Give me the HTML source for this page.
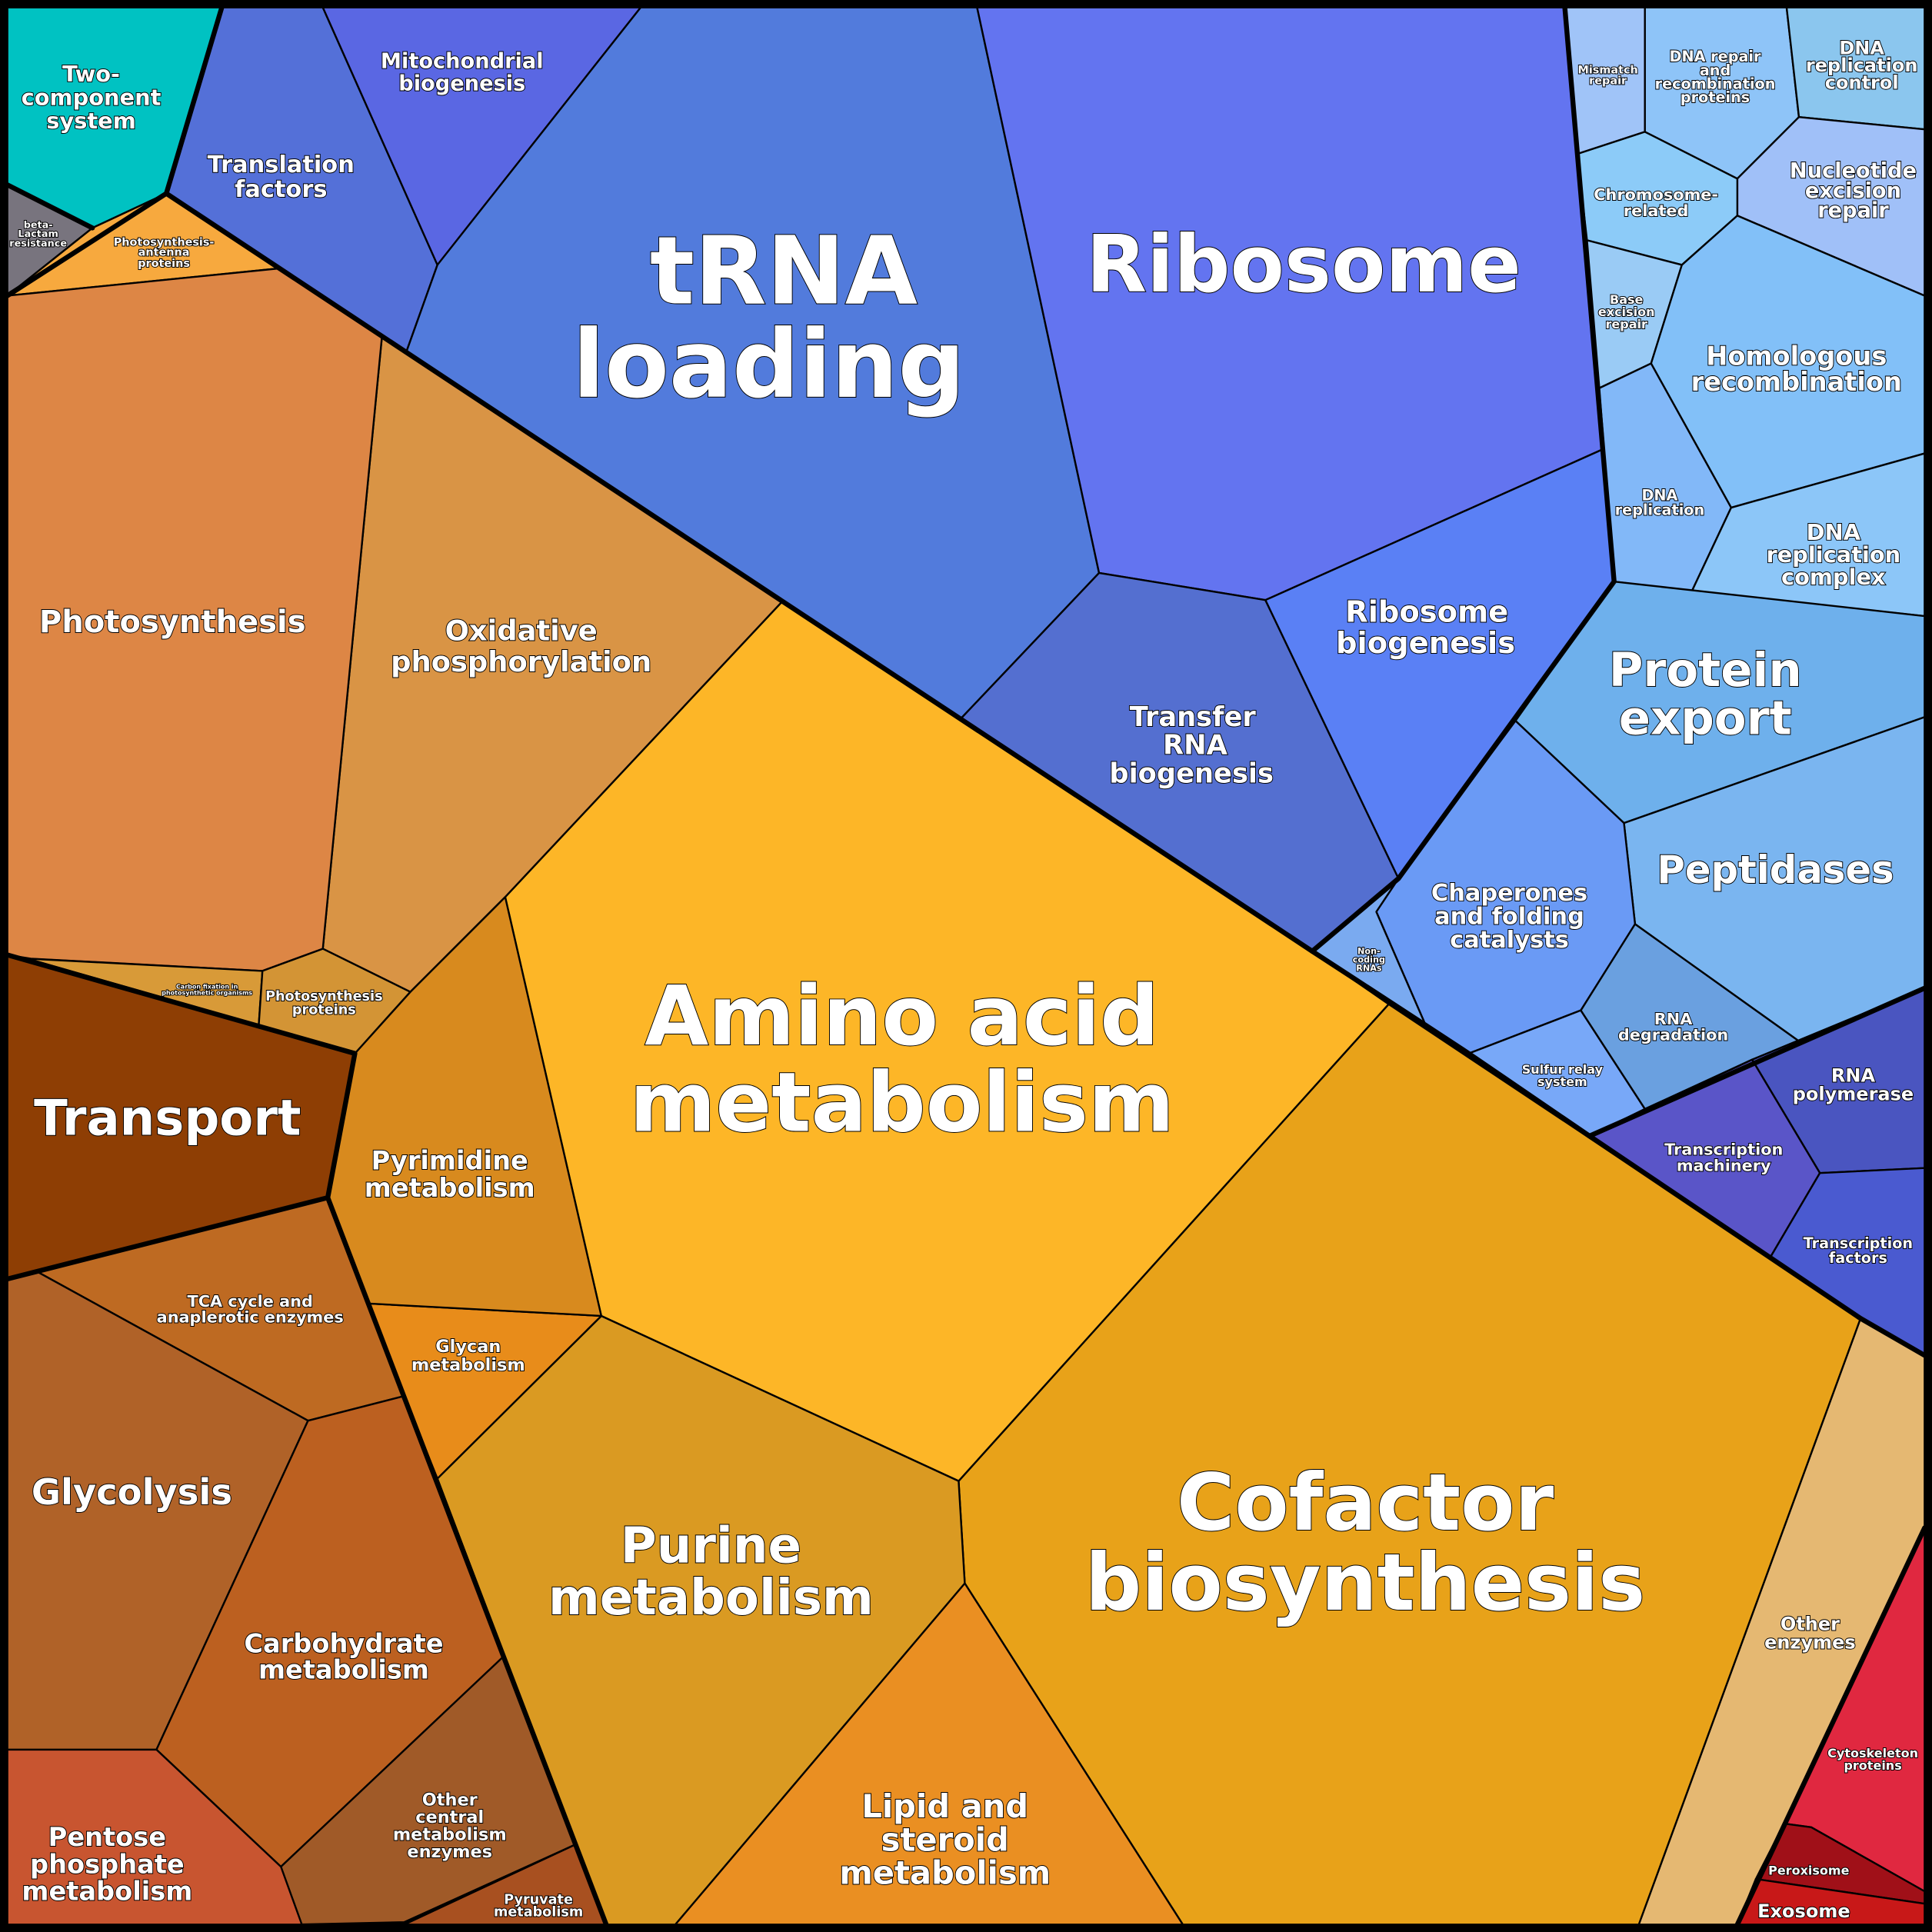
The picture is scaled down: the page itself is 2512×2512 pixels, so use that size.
<!DOCTYPE html>
<html><head><meta charset="utf-8"><style>
html,body{margin:0;padding:0;background:#000}
svg{display:block}
text{font-family:"DejaVu Sans","Liberation Sans",sans-serif;font-weight:bold;fill:#fff;stroke:#000;stroke-width:1.2;paint-order:stroke;text-anchor:middle;dominant-baseline:central}
polygon{stroke:#000;stroke-width:1.5;stroke-linejoin:round}
.t{fill:none;stroke:#000;stroke-width:4;stroke-linejoin:round;stroke-linecap:round}
</style></head><body>
<svg width="2512" height="2512" viewBox="0 0 1568 1568" xmlns="http://www.w3.org/2000/svg">
<rect width="1568" height="1568" fill="#000"/>
<polygon fill="#00C2C2" points="6,6 180,6 135,157 75,185 6,150"/>
<polygon fill="#78747E" points="6,150 75,185 6,240"/>
<polygon fill="#F7A93E" points="6,240 75,185 135,157 225,218"/>
<polygon fill="#5470D8" points="180,6 262,6 355,215 330,285 135,157"/>
<polygon fill="#5A67E3" points="262,6 520,6 355,215"/>
<polygon fill="#527BDC" points="520,6 793,6 892,465 780,583 330,285 355,215"/>
<polygon fill="#6374F0" points="793,6 1270,6 1300,365 1027,487 892,465"/>
<polygon fill="#546FD0" points="892,465 1027,487 1135,713 1065,772 780,583"/>
<polygon fill="#5A80F5" points="1027,487 1300,365 1310,472 1230,585 1135,713"/>
<polygon fill="#A0C4F8" points="1270,6 1335,6 1335,107 1280,125"/>
<polygon fill="#8EC4F8" points="1335,6 1450,6 1460,95 1410,145 1335,107"/>
<polygon fill="#8BC6EE" points="1450,6 1562,6 1562,105 1460,95"/>
<polygon fill="#A0C0F8" points="1460,95 1562,105 1562,240 1410,175 1410,145"/>
<polygon fill="#8CCBF8" points="1280,125 1335,107 1410,145 1410,175 1365,215 1288,195"/>
<polygon fill="#9ACBF5" points="1288,195 1365,215 1340,295 1298,315"/>
<polygon fill="#82C0F8" points="1365,215 1410,175 1562,240 1562,368 1405,412 1340,295"/>
<polygon fill="#82B8F8" points="1298,315 1340,295 1405,412 1373,480 1310,472"/>
<polygon fill="#8CC6F8" points="1405,412 1562,368 1562,500 1373,480"/>
<polygon fill="#6EB0EC" points="1310,472 1562,500 1562,582 1318,668 1230,585"/>
<polygon fill="#7AB5F0" points="1318,668 1562,582 1562,802 1460,845 1327,750"/>
<polygon fill="#6A9AF5" points="1230,585 1318,668 1327,750 1283,820 1192,855 1157,832 1117,740 1135,713"/>
<polygon fill="#7AAAF0" points="1065,772 1135,713 1117,740 1157,832"/>
<polygon fill="#78A8F8" points="1192,855 1283,820 1335,900 1290,922"/>
<polygon fill="#6AA0E0" points="1283,820 1327,750 1460,845 1422,860 1335,900"/>
<polygon fill="#4A55C0" points="1422,860 1562,802 1562,948 1477,952"/>
<polygon fill="#5A55C8" points="1290,922 1422,860 1477,952 1437,1020"/>
<polygon fill="#4A5AD0" points="1477,952 1562,948 1562,1100 1510,1070 1437,1020"/>
<polygon fill="#E5B872" points="1510,1070 1562,1100 1562,1240 1410,1562 1330,1562"/>
<polygon fill="#E02840" points="1562,1240 1562,1535 1470,1483 1448,1480"/>
<polygon fill="#A01018" points="1448,1480 1470,1483 1562,1535 1562,1545 1425,1525"/>
<polygon fill="#C81818" points="1425,1525 1562,1545 1562,1562 1410,1562"/>
<polygon fill="#E8A219" points="1127,815 1510,1070 1330,1562 960,1562 783,1285 778,1202"/>
<polygon fill="#FDB627" points="635,488 1065,772 1127,815 778,1202 488,1068 410,728"/>
<polygon fill="#EA8F22" points="783,1285 960,1562 548,1562"/>
<polygon fill="#DA9A22" points="488,1068 778,1202 783,1285 548,1562 492,1562 355,1200"/>
<polygon fill="#E88C1A" points="300,1058 488,1068 355,1200 328,1133"/>
<polygon fill="#D88A1E" points="288,855 333,805 410,728 488,1068 300,1058 266,972"/>
<polygon fill="#D99445" points="310,273 635,488 410,728 333,805 262,770"/>
<polygon fill="#DD8645" points="6,240 225,218 310,273 262,770 213,788 25,778 6,775"/>
<polygon fill="#D89A38" points="22,778 213,788 210,832"/>
<polygon fill="#D39435" points="213,788 262,770 333,805 288,855 210,832"/>
<polygon fill="#8E3E04" points="6,775 22,778 210,832 288,855 266,972 6,1038"/>
<polygon fill="#BE6A22" points="30,1032 266,972 328,1133 250,1153"/>
<polygon fill="#B06228" points="6,1038 30,1032 250,1153 127,1420 6,1420"/>
<polygon fill="#BC6020" points="250,1153 328,1133 408,1345 228,1515 127,1420"/>
<polygon fill="#A05A28" points="408,1345 467,1497 328,1560 240,1562 228,1515"/>
<polygon fill="#A85020" points="467,1497 492,1562 328,1562"/>
<polygon fill="#C85530" points="6,1420 127,1420 228,1515 245,1562 6,1562"/>

<polyline class="t" points="180,6 135,157 6,240"/>
<polyline class="t" points="75,185 6,150"/>
<polyline class="t" points="135,157 635,488 1065,772 1135,713 1310,472 1270,6"/>
<polyline class="t" points="1065,772 1157,832 1192,855 1290,922 1510,1070 1562,1100"/>
<polyline class="t" points="1290,922 1562,802"/>
<polyline class="t" points="1562,1240 1410,1562"/>
<polyline class="t" points="6,775 288,855 266,972 6,1038"/>
<polyline class="t" points="266,972 492,1562"/>
<rect x="3" y="3" width="1562" height="1562" fill="none" stroke="#000" stroke-width="7"/>

<g>
<text x="74" y="60" font-size="18">Two-</text><text x="74" y="79" font-size="18">component</text><text x="74" y="98" font-size="18">system</text>
<text x="31" y="183" font-size="8">beta-</text><text x="31" y="190" font-size="8">Lactam</text><text x="31" y="198" font-size="8">resistance</text>
<text x="133" y="197" font-size="9">Photosynthesis-</text><text x="133" y="205" font-size="9">antenna</text><text x="133" y="214" font-size="9">proteins</text>
<text x="228" y="134" font-size="19">Translation</text><text x="228" y="154" font-size="19">factors</text>
<text x="375" y="50" font-size="17">Mitochondrial</text><text x="375" y="68" font-size="17">biogenesis</text>
<text x="636" y="220" font-size="76">tRNA</text><text x="624" y="296" font-size="76">loading</text>
<text x="1058" y="215" font-size="64">Ribosome</text>
<text x="968" y="582" font-size="22">Transfer</text><text x="970" y="605" font-size="22">RNA</text><text x="967" y="628" font-size="22">biogenesis</text>
<text x="1158" y="497" font-size="24">Ribosome</text><text x="1157" y="522" font-size="24">biogenesis</text>
<text x="1305" y="57" font-size="9">Mismatch</text><text x="1305" y="66" font-size="9">repair</text>
<text x="1392" y="46" font-size="12">DNA repair</text><text x="1392" y="57" font-size="12">and</text><text x="1392" y="68" font-size="12">recombination</text><text x="1392" y="79" font-size="12">proteins</text>
<text x="1511" y="39" font-size="15">DNA</text><text x="1511" y="53" font-size="15">replication</text><text x="1511" y="67" font-size="15">control</text>
<text x="1504" y="139" font-size="17">Nucleotide</text><text x="1504" y="155" font-size="17">excision</text><text x="1504" y="171" font-size="17">repair</text>
<text x="1344" y="158" font-size="13">Chromosome-</text><text x="1344" y="171" font-size="13">related</text>
<text x="1320" y="243" font-size="10">Base</text><text x="1320" y="253" font-size="10">excision</text><text x="1320" y="263" font-size="10">repair</text>
<text x="1458" y="289" font-size="21">Homologous</text><text x="1458" y="310" font-size="21">recombination</text>
<text x="1347" y="402" font-size="12">DNA</text><text x="1347" y="414" font-size="12">replication</text>
<text x="1488" y="432" font-size="18">DNA</text><text x="1488" y="450" font-size="18">replication</text><text x="1488" y="468" font-size="18">complex</text>
<text x="1384" y="544" font-size="38">Protein</text><text x="1384" y="583" font-size="38">export</text>
<text x="1441" y="706" font-size="31">Peptidases</text>
<text x="1225" y="725" font-size="19">Chaperones</text><text x="1225" y="744" font-size="19">and folding</text><text x="1225" y="763" font-size="19">catalysts</text>
<text x="1111" y="772" font-size="7">Non-</text><text x="1111" y="779" font-size="7">coding</text><text x="1111" y="786" font-size="7">RNAs</text>
<text x="1268" y="868" font-size="10">Sulfur relay</text><text x="1268" y="878" font-size="10">system</text>
<text x="1358" y="827" font-size="13">RNA</text><text x="1358" y="840" font-size="13">degradation</text>
<text x="1504" y="873" font-size="15">RNA</text><text x="1504" y="888" font-size="15">polymerase</text>
<text x="1399" y="933" font-size="13">Transcription</text><text x="1399" y="946" font-size="13">machinery</text>
<text x="1508" y="1009" font-size="12">Transcription</text><text x="1508" y="1021" font-size="12">factors</text>
<text x="1469" y="1318" font-size="15">Other</text><text x="1469" y="1333" font-size="15">enzymes</text>
<text x="1520" y="1423" font-size="10">Cytoskeleton</text><text x="1520" y="1433" font-size="10">proteins</text>
<text x="1468" y="1518" font-size="10">Peroxisome</text>
<text x="1464" y="1551" font-size="15">Exosome</text>
<text x="1108" y="1220" font-size="64">Cofactor</text><text x="1108" y="1285" font-size="64">biosynthesis</text>
<text x="732" y="825" font-size="67">Amino acid</text><text x="732" y="895" font-size="67">metabolism</text>
<text x="767" y="1466" font-size="26">Lipid and</text><text x="767" y="1493" font-size="26">steroid</text><text x="767" y="1520" font-size="26">metabolism</text>
<text x="577" y="1255" font-size="40">Purine</text><text x="577" y="1297" font-size="40">metabolism</text>
<text x="380" y="1093" font-size="14">Glycan</text><text x="380" y="1108" font-size="14">metabolism</text>
<text x="365" y="942" font-size="21">Pyrimidine</text><text x="365" y="964" font-size="21">metabolism</text>
<text x="423" y="512" font-size="23">Oxidative</text><text x="423" y="537" font-size="23">phosphorylation</text>
<text x="140" y="505" font-size="25">Photosynthesis</text>
<text x="168" y="801" font-size="5">Carbon fixation in</text><text x="168" y="806" font-size="5">photosynthetic organisms</text>
<text x="263" y="809" font-size="11">Photosynthesis</text><text x="263" y="820" font-size="11">proteins</text>
<text x="136" y="908" font-size="40">Transport</text>
<text x="203" y="1056" font-size="13">TCA cycle and</text><text x="203" y="1069" font-size="13">anaplerotic enzymes</text>
<text x="107" y="1211" font-size="29">Glycolysis</text>
<text x="279" y="1334" font-size="21">Carbohydrate</text><text x="279" y="1355" font-size="21">metabolism</text>
<text x="365" y="1461" font-size="14">Other</text><text x="365" y="1475" font-size="14">central</text><text x="365" y="1489" font-size="14">metabolism</text><text x="365" y="1503" font-size="14">enzymes</text>
<text x="437" y="1542" font-size="11">Pyruvate</text><text x="437" y="1552" font-size="11">metabolism</text>
<text x="87" y="1491" font-size="21">Pentose</text><text x="87" y="1513" font-size="21">phosphate</text><text x="87" y="1535" font-size="21">metabolism</text>
</g>
</svg>
</body></html>
